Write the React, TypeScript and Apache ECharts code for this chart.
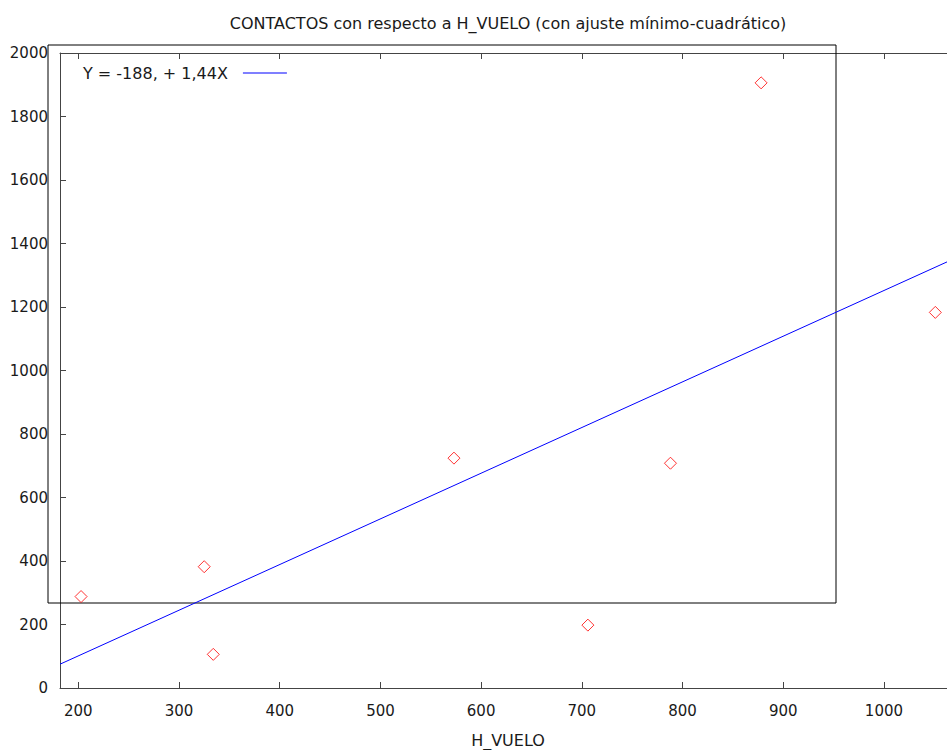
import React, { useEffect, useRef } from 'react';
import * as echarts from 'echarts';

const hVuelo = [202.7, 325, 334, 573, 706, 788, 878, 1051];
const contactos = [288, 382, 106, 724, 198, 708, 1906, 1183];
const fitX = [181.8, 1062.6];
const fitY = [75, 1342];
const xTicks = [200, 300, 400, 500, 600, 700, 800, 900, 1000];
const fitLabel = 'Y = -188, + 1,44X';
const titleText = 'CONTACTOS con respecto a H_VUELO (con ajuste mínimo-cuadrático)';
const xName = 'H_VUELO';

const FONT = 'DejaVu Sans';
const TXT = '#1a1a1a';
const AX = '#444';

export default function App() {
  const ref = useRef<HTMLDivElement>(null);
  useEffect(() => {
    const chart = echarts.init(ref.current!, null, { renderer: 'svg' });
    const fmt = (v: number) => String(Math.round(v));
    const xBase = {
      type: 'value',
      min: fitX[0],
      max: fitX[1],
      splitLine: { show: false },
      axisLine: { show: true, lineStyle: { color: AX, width: 1 } },
      axisTick: { show: true, inside: true, length: 6, customValues: xTicks, lineStyle: { color: AX } },
    };
    chart.setOption({
      animation: false,
      textStyle: { fontFamily: FONT },
      grid: { left: 60, right: 0, top: 53, bottom: 62, containLabel: false },
      xAxis: [
        {
          ...xBase,
          position: 'bottom',
          axisLabel: { show: true, customValues: xTicks, formatter: fmt, fontSize: 15, color: TXT, margin: 15, fontFamily: FONT },
        },
        {
          ...xBase,
          position: 'top',
          axisLabel: { show: false },
        },
      ],
      yAxis: {
        type: 'value',
        min: 0,
        max: 2000,
        interval: 200,
        splitLine: { show: false },
        axisLine: { show: true, lineStyle: { color: AX, width: 1 } },
        axisTick: { show: true, inside: true, length: 6, lineStyle: { color: AX } },
        axisLabel: { formatter: fmt, fontSize: 15, color: TXT, margin: 12, fontFamily: FONT },
      },
      legend: {
        left: 78,
        top: 60,
        align: 'right',
        itemWidth: 44,
        itemHeight: 1,
        textStyle: { fontSize: 16, color: TXT, fontFamily: FONT, padding: [0, 10, 0, 0] },
        data: [{ name: fitLabel, icon: 'rect' }],
      },
      graphic: [
        {
          type: 'text',
          x: 508,
          y: 23,
          style: { text: titleText, fontSize: 16, fill: TXT, fontFamily: FONT, textAlign: 'center', textVerticalAlign: 'middle' },
        },
        {
          type: 'text',
          x: 508,
          y: 740,
          style: { text: xName, fontSize: 16, fill: TXT, fontFamily: FONT, textAlign: 'center', textVerticalAlign: 'middle' },
        },
        {
          type: 'rect',
          shape: { x: 48, y: 45, width: 788, height: 558 },
          style: { fill: 'none', stroke: '#000', lineWidth: 1 },
          z: 1,
        },
      ],
      series: [
        {
          name: 'puntos',
          type: 'scatter',
          data: hVuelo.map((x, i) => [x, contactos[i]]),
          symbol: 'diamond',
          symbolSize: 12,
          itemStyle: { color: 'rgba(0,0,0,0)', borderColor: '#ff0000', borderWidth: 1 },
          z: 3,
        },
        {
          name: fitLabel,
          type: 'line',
          data: fitX.map((x, i) => [x, fitY[i]]),
          showSymbol: false,
          lineStyle: { color: '#0000ff', width: 1 },
          itemStyle: { color: '#0000ff' },
          z: 2,
        },
      ],
    });
    return () => chart.dispose();
  }, []);
  return <div ref={ref} style={{ position: 'fixed', left: 0, top: 0, width: 947, height: 750, background: '#fff' }} />;
}
